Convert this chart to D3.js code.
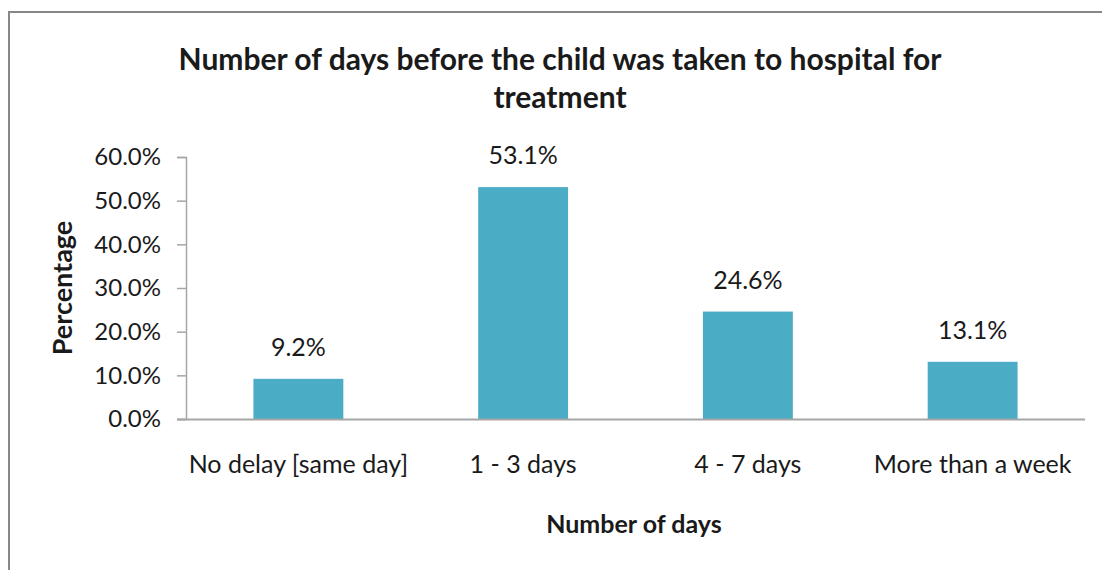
<!DOCTYPE html>
<html>
<head>
<meta charset="utf-8">
<script src="https://cdn.jsdelivr.net/npm/d3@7"></script>
<style>
  html, body { margin: 0; padding: 0; background: #fff; }
  svg { display: block; }
  text { font-family: Lato, "Open Sans", "Noto Sans", sans-serif; fill: #1a1a1a; }
</style>
</head>
<body>
<svg id="chart" width="1102" height="570"></svg>
<script>
// Delay before hospital treatment, share of children per category
const categories = ["No delay [same day]", "1 - 3 days", "4 - 7 days", "More than a week"];
const percentages = [9.2, 53.1, 24.6, 13.1];
const yTicks = [0, 10, 20, 30, 40, 50, 60];
const titleLines = ["Number of days before the child was taken to hospital for", "treatment"];

const svg = d3.select("#chart");
const plot = { left: 186, right: 1085, top: 157, bottom: 419 };

// Chart area frame (left and top edges)
svg.append("path")
  .attr("d", "M9,570 V12 H1102")
  .attr("fill", "none")
  .attr("stroke", "#878787")
  .attr("stroke-width", 2);

const x = d3.scaleBand()
  .domain(categories)
  .range([plot.left, plot.right])
  .paddingInner(0.6)
  .paddingOuter(0.3);

const y = d3.scaleLinear()
  .domain([0, 60])
  .range([plot.bottom, plot.top]);

// Y axis
const yAxis = svg.append("g")
  .attr("transform", `translate(${plot.left},0)`)
  .call(d3.axisLeft(y).tickValues(yTicks).tickSize(9).tickPadding(16)
    .tickFormat(d => d.toFixed(1) + "%"));
yAxis.select(".domain").attr("stroke", "#a6a6a6").attr("stroke-width", 1.5);
yAxis.selectAll(".tick line").attr("stroke", "#a6a6a6").attr("stroke-width", 1.5);
yAxis.selectAll(".tick text").style("font-size", "24px").attr("fill", "#1a1a1a");

// Bars
svg.append("g").selectAll("rect")
  .data(percentages)
  .join("rect")
  .attr("x", (d, i) => x(categories[i]))
  .attr("y", d => y(d))
  .attr("width", x.bandwidth())
  .attr("height", d => y(0) - y(d))
  .attr("fill", "#4bacc6");

// X axis
const xAxis = svg.append("g")
  .attr("transform", `translate(0,${plot.bottom})`)
  .call(d3.axisBottom(x).tickSize(0).tickPadding(36).tickSizeOuter(0));
xAxis.select(".domain")
  .attr("d", `M${plot.left - 9},0.5H${plot.right}`)
  .attr("stroke", "#a6a6a6").attr("stroke-width", 2);
xAxis.selectAll(".tick text").style("font-size", "25px").attr("fill", "#1a1a1a");

// Value labels
svg.append("g").selectAll("text")
  .data(percentages)
  .join("text")
  .attr("x", (d, i) => x(categories[i]) + x.bandwidth() / 2)
  .attr("y", d => y(d) - 23)
  .attr("text-anchor", "middle")
  .style("font-size", "25px")
  .text(d => d.toFixed(1) + "%");

// Title
svg.append("text")
  .attr("text-anchor", "middle")
  .style("font-size", "30px")
  .style("font-weight", "bold")
  .selectAll("tspan")
  .data(titleLines)
  .join("tspan")
  .attr("x", 560)
  .attr("y", (d, i) => 70 + i * 38)
  .text(d => d);

// Axis titles
svg.append("text")
  .attr("transform", "translate(72,288) rotate(-90)")
  .attr("text-anchor", "middle")
  .style("font-size", "27px")
  .style("font-weight", "bold")
  .text("Percentage");

svg.append("text")
  .attr("x", 634)
  .attr("y", 533)
  .attr("text-anchor", "middle")
  .style("font-size", "25px")
  .style("font-weight", "bold")
  .text("Number of days");
</script>
</body>
</html>
